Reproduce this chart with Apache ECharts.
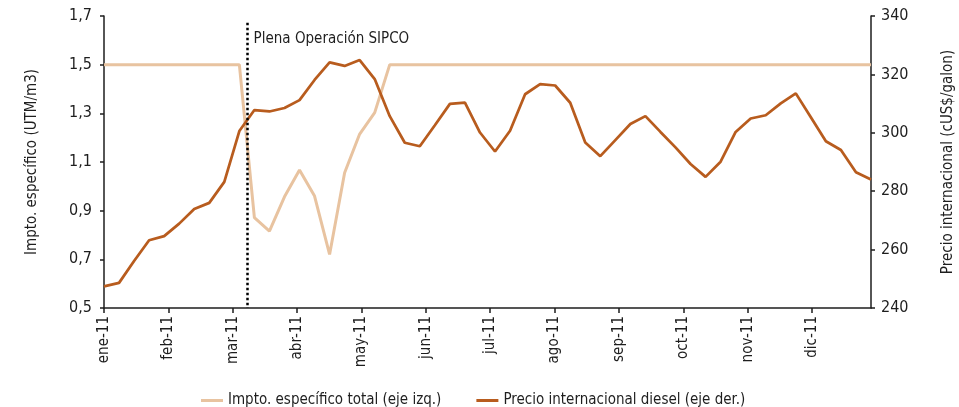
<!DOCTYPE html>
<html>
<head>
<meta charset="utf-8">
<script src="https://cdn.jsdelivr.net/npm/echarts@6/dist/echarts.min.js"></script>
<style>
  html, body { margin: 0; padding: 0; background: #ffffff; }
  #chart { width: 959px; height: 407px; }
</style>
</head>
<body>
<div id="chart"></div>
<script>
// Month labels shown along the weekly axis
const months = ['ene-11', 'feb-11', 'mar-11', 'abr-11', 'may-11', 'jun-11',
                'jul-11', 'ago-11', 'sep-11', 'oct-11', 'nov-11', 'dic-11'];

// Weekly specific tax (UTM/m3), left axis
const impto = [
  1.5, 1.5, 1.5, 1.5, 1.5, 1.5, 1.5, 1.5, 1.5, 1.5,
  0.871, 0.816, 0.957, 1.067, 0.960, 0.720, 1.056, 1.215, 1.303,
  1.5, 1.5, 1.5, 1.5, 1.5, 1.5, 1.5, 1.5, 1.5, 1.5, 1.5,
  1.5, 1.5, 1.5, 1.5, 1.5, 1.5, 1.5, 1.5, 1.5, 1.5, 1.5,
  1.5, 1.5, 1.5, 1.5, 1.5, 1.5, 1.5, 1.5, 1.5, 1.5, 1.5
];

// Weekly international diesel price (cUS$/galon), right axis
const diesel = [
  247.4, 248.6, 256.1, 263.2, 264.6, 268.9, 273.9, 276.0, 283.2, 300.6,
  307.8, 307.3, 308.5, 311.2, 318.1, 324.1, 322.9, 324.9, 318.4, 305.7,
  296.6, 295.4, 302.6, 309.9, 310.3, 300.1, 293.6, 300.7, 313.2, 316.7,
  316.2, 310.3, 296.7, 292.0, 297.5, 303.0, 305.7, 300.3, 295.0, 289.3,
  284.9, 290.1, 300.3, 304.9, 306.0, 310.1, 313.5, 305.3, 297.1, 294.1,
  286.5, 284.0
];

const leftTicks = [0.5, 0.7, 0.9, 1.1, 1.3, 1.5, 1.7];
const rightTicks = [240, 260, 280, 300, 320, 340];

// Week at which SIPCO reaches full operation, and its caption
const sipcoWeek = 9.55;
const sipcoText = 'Plena Operación SIPCO';

const seriesNames = ['Impto. específico total (eje izq.)', 'Precio internacional diesel (eje der.)'];
const leftTitle = 'Impto. específico (UTM/m3)';
const rightTitle = 'Precio internacional (cUS$/galon)';

const weeksPerMonth = 4.28;
const FONT = "'Liberation Sans Narrow', 'DejaVu Sans Condensed', 'Liberation Sans', sans-serif";
const INK = '#1e1e1e';
const LIGHT = '#e8c3a0';
const DARK = '#b85c1e';

const weekIdx = diesel.map((_, i) => i);
const monthPos = months.map((_, i) => i * weeksPerMonth);

const chart = echarts.init(document.getElementById('chart'), null, { renderer: 'canvas' });

chart.setOption({
  animation: false,
  backgroundColor: '#ffffff',
  textStyle: { fontFamily: FONT, color: INK },
  grid: { left: 104, right: 88, top: 16, bottom: 99, containLabel: false, outerBoundsMode: 'none' },
  legend: {
    left: 196,
    top: 388,
    icon: 'rect',
    itemWidth: 22,
    itemHeight: 3,
    itemGap: 35,
    textStyle: { fontFamily: FONT, fontSize: 15, color: INK },
    data: seriesNames
  },
  xAxis: {
    type: 'value',
    min: 0,
    max: diesel.length - 1,
    axisLine: { show: true, lineStyle: { color: INK, width: 1.5 } },
    axisTick: { show: true, length: 5, customValues: monthPos, lineStyle: { color: INK, width: 1.5 } },
    splitLine: { show: false },
    axisLabel: {
      customValues: monthPos,
      rotate: 90,
      margin: 8,
      fontFamily: FONT,
      fontSize: 15,
      color: INK,
      formatter: v => months[Math.round(v / weeksPerMonth)] || ''
    }
  },
  yAxis: [
    {
      type: 'value',
      position: 'left',
      min: leftTicks[0],
      max: leftTicks[leftTicks.length - 1],
      name: leftTitle,
      nameLocation: 'middle',
      nameGap: 64,
      nameTextStyle: { fontFamily: FONT, fontSize: 15, color: INK },
      axisLine: { show: true, lineStyle: { color: INK, width: 1.5 } },
      axisTick: { show: true, length: 4, customValues: leftTicks, lineStyle: { color: INK, width: 1.5 } },
      splitLine: { show: false },
      axisLabel: {
        customValues: leftTicks,
        margin: 12,
        fontFamily: FONT,
        fontSize: 16,
        color: INK,
        formatter: v => v.toFixed(1).replace('.', ',')
      }
    },
    {
      type: 'value',
      position: 'right',
      min: rightTicks[0],
      max: rightTicks[rightTicks.length - 1],
      interval: 20,
      name: rightTitle,
      nameLocation: 'middle',
      nameGap: 70,
      nameRotate: 90,
      nameTextStyle: { fontFamily: FONT, fontSize: 15, color: INK },
      axisLine: { show: true, lineStyle: { color: INK, width: 1.5 } },
      axisTick: { show: true, length: 4, lineStyle: { color: INK, width: 1.5 } },
      splitLine: { show: false },
      axisLabel: { margin: 10, fontFamily: FONT, fontSize: 16, color: INK }
    }
  ],
  series: [
    {
      name: seriesNames[0],
      type: 'line',
      yAxisIndex: 0,
      symbol: 'none',
      data: weekIdx.map(i => [i, impto[i]]),
      lineStyle: { color: LIGHT, width: 3 },
      itemStyle: { color: LIGHT },
      markLine: {
        silent: true,
        symbol: 'none',
        label: { show: false },
        lineStyle: { color: '#000000', width: 2.5, type: [2.5, 2.5], cap: 'butt' },
        data: [[{ coord: [sipcoWeek, 1.672] }, { coord: [sipcoWeek, leftTicks[0]] }]]
      },
      markPoint: {
        silent: true,
        symbol: 'circle',
        symbolSize: 0,
        data: [{ coord: [sipcoWeek, 1.605], value: sipcoText }],
        label: {
          show: true,
          position: 'right',
          distance: 6,
          formatter: sipcoText,
          fontFamily: FONT,
          fontSize: 15,
          color: INK
        }
      }
    },
    {
      name: seriesNames[1],
      type: 'line',
      yAxisIndex: 1,
      symbol: 'none',
      data: weekIdx.map(i => [i, diesel[i]]),
      lineStyle: { color: DARK, width: 2.75 },
      itemStyle: { color: DARK }
    }
  ]
});
</script>
</body>
</html>
